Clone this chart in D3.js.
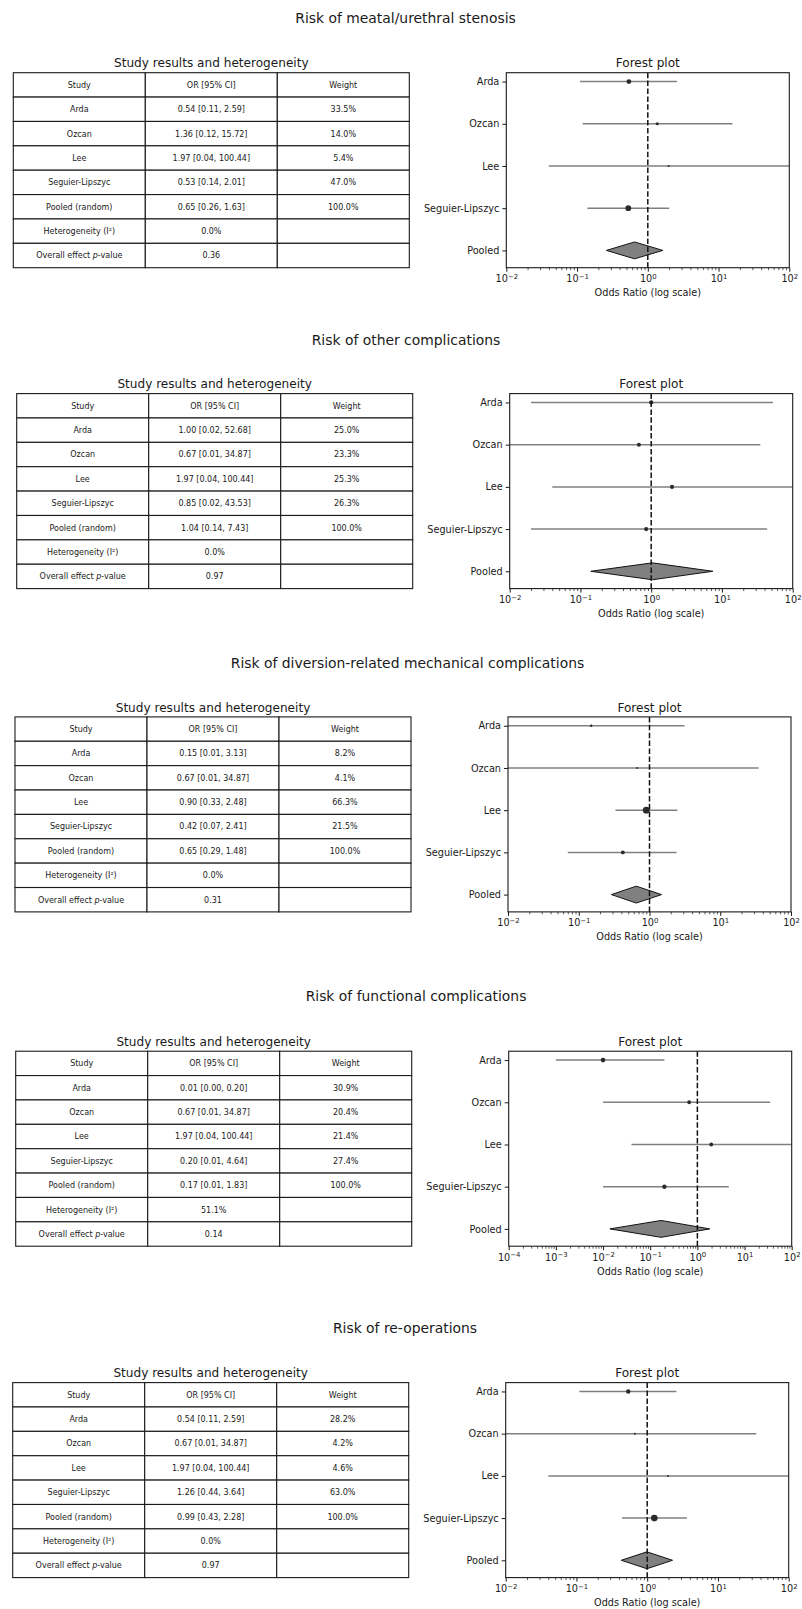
<!DOCTYPE html>
<html>
<head>
<meta charset="utf-8">
<script src="https://cdn.jsdelivr.net/npm/d3@7"></script>
<style>
  body { margin: 0; background: #fff; }
  text { font-family: "DejaVu Sans", sans-serif; fill: #1a1a1a; }
</style>
</head>
<body>
<div id="chart"></div>
<script>
var studies = ["Arda", "Ozcan", "Lee", "Seguier-Lipszyc"];
var outcomes = [
  "Risk of meatal/urethral stenosis",
  "Risk of other complications",
  "Risk of diversion-related mechanical complications",
  "Risk of functional complications",
  "Risk of re-operations"
];

// odds ratio, lower / upper 95% CI, weight (%) per study
var meatalOR = [0.54, 1.36, 1.97, 0.53],
    meatalLo = [0.11, 0.12, 0.04, 0.14],
    meatalHi = [2.59, 15.72, 100.44, 2.01],
    meatalW  = [33.5, 14.0, 5.4, 47.0];
var otherOR = [1.00, 0.67, 1.97, 0.85],
    otherLo = [0.02, 0.01, 0.04, 0.02],
    otherHi = [52.68, 34.87, 100.44, 43.53],
    otherW  = [25.0, 23.3, 25.3, 26.3];
var mechOR = [0.15, 0.67, 0.90, 0.42],
    mechLo = [0.01, 0.01, 0.33, 0.07],
    mechHi = [3.13, 34.87, 2.48, 2.41],
    mechW  = [8.2, 4.1, 66.3, 21.5];
var funcOR = [0.01, 0.67, 1.97, 0.20],
    funcLo = [0.001, 0.01, 0.04, 0.01],
    funcHi = [0.20, 34.87, 100.44, 4.64],
    funcW  = [30.9, 20.4, 21.4, 27.4];
var reopOR = [0.54, 0.67, 1.97, 1.26],
    reopLo = [0.11, 0.01, 0.04, 0.44],
    reopHi = [2.59, 34.87, 100.44, 3.64],
    reopW  = [28.2, 4.2, 4.6, 63.0];

// pooled (random): OR, lower, upper
var pooled = [[0.65, 0.26, 1.63], [1.04, 0.14, 7.43], [0.65, 0.29, 1.48], [0.17, 0.014, 1.83], [0.99, 0.43, 2.28]];
var heterogeneity = [0.0, 0.0, 0.0, 51.1, 0.0];
var pValues = [0.36, 0.97, 0.31, 0.14, 0.97];
var xDomains = [[1e-2, 1e2], [1e-2, 1e2], [1e-2, 1e2], [1e-4, 1e2], [1e-2, 1e2]];

var orData = [meatalOR, otherOR, mechOR, funcOR, reopOR],
    loData = [meatalLo, otherLo, mechLo, funcLo, reopLo],
    hiData = [meatalHi, otherHi, mechHi, funcHi, reopHi],
    wData  = [meatalW, otherW, mechW, funcW, reopW];

// where each panel sits
var layout = [
  {dx: 13.3, top: 72.7,   tx: 405.5, ty: 18.3},
  {dx: 16.7, top: 393.6,  tx: 406,   ty: 340},
  {dx: 15,   top: 716.9,  tx: 407.5, ty: 662.7},
  {dx: 15.7, top: 1051.2, tx: 416,   ty: 996},
  {dx: 12.7, top: 1382.6, tx: 405,   ty: 1327.7}
];

var W = 802, H = 1609;
var tableW = 396, panelH = 195, axGap = 493, axW = 283;

var svg = d3.select("#chart").append("svg")
    .attr("width", W)
    .attr("height", H);
svg.append("rect").attr("width", W).attr("height", H).attr("fill", "#fff");

function fmt(v) { return v.toFixed(2); }

function drawPanel(i) {
  var L = layout[i];
  var g = svg.append("g");
  var top = L.top, bottom = L.top + panelH;

  g.append("text")
      .attr("x", L.tx)
      .attr("y", L.ty + 5)
      .attr("text-anchor", "middle")
      .style("font-size", "13.9px")
      .text(outcomes[i]);

  // ---- table
  var rows = [["Study", "OR [95% CI]", "Weight"]];
  studies.forEach(function(s, k) {
    rows.push([s, fmt(orData[i][k]) + " [" + fmt(loData[i][k]) + ", " + fmt(hiData[i][k]) + "]", wData[i][k].toFixed(1) + "%"]);
  });
  var P = pooled[i];
  rows.push(["Pooled (random)", fmt(P[0]) + " [" + fmt(P[1]) + ", " + fmt(P[2]) + "]", "100.0%"]);
  rows.push(["Heterogeneity (I\u00b2)", heterogeneity[i].toFixed(1) + "%", ""]);
  rows.push(["__p", fmt(pValues[i]), ""]);

  var colX = d3.scaleBand().domain([0, 1, 2]).range([L.dx, L.dx + tableW]);
  var rowY = d3.scaleBand().domain(d3.range(rows.length)).range([top, bottom]);

  g.append("text")
      .attr("x", L.dx + tableW / 2)
      .attr("y", top - 5.3)
      .attr("text-anchor", "middle")
      .style("font-size", "12.1px")
      .text("Study results and heterogeneity");

  var cell = g.selectAll(".cell")
      .data(d3.merge(rows.map(function(r, ri) { return r.map(function(c, ci) { return {r: ri, c: ci, t: c}; }); })))
    .enter().append("g")
      .attr("class", "cell");

  cell.append("rect")
      .attr("x", function(d) { return colX(d.c); })
      .attr("y", function(d) { return rowY(d.r); })
      .attr("width", colX.bandwidth())
      .attr("height", rowY.bandwidth())
      .attr("fill", "#fff")
      .attr("stroke", "#1a1a1a")
      .attr("stroke-width", 1.1);

  cell.append("text")
      .attr("x", function(d) { return colX(d.c) + colX.bandwidth() / 2; })
      .attr("y", function(d) { return rowY(d.r) + rowY.bandwidth() / 2; })
      .attr("dy", "0.36em")
      .attr("text-anchor", "middle")
      .style("font-size", "8px")
      .each(function(d) {
        var t = d3.select(this);
        if (d.t === "__p") {
          t.append("tspan").text("Overall effect ");
          t.append("tspan").style("font-style", "italic").text("p");
          t.append("tspan").text("-value");
        } else {
          t.text(d.t);
        }
      });

  // ---- forest plot
  var ax0 = L.dx + axGap;
  var x = d3.scaleLog().domain(xDomains[i]).range([ax0, ax0 + axW]);
  var y = d3.scaleLinear().domain([-0.41, 4.21]).range([bottom, top]);

  var clipId = "clip" + i;
  g.append("clipPath").attr("id", clipId)
    .append("rect")
      .attr("x", ax0).attr("y", top)
      .attr("width", axW).attr("height", panelH);

  g.append("text")
      .attr("x", ax0 + axW / 2)
      .attr("y", top - 5.3)
      .attr("text-anchor", "middle")
      .style("font-size", "12.1px")
      .text("Forest plot");

  var plot = g.append("g").attr("clip-path", "url(#" + clipId + ")");

  var pts = studies.map(function(s, k) {
    return {y: 4 - k, or: orData[i][k], lo: loData[i][k], hi: hiData[i][k], w: wData[i][k]};
  });

  plot.selectAll(".ci")
      .data(pts)
    .enter().append("line")
      .attr("class", "ci")
      .attr("x1", function(d) { return x(d.lo); })
      .attr("x2", function(d) { return x(d.hi); })
      .attr("y1", function(d) { return y(d.y); })
      .attr("y2", function(d) { return y(d.y); })
      .attr("stroke", "#808080")
      .attr("stroke-width", 1.5);

  plot.selectAll(".dot")
      .data(pts)
    .enter().append("circle")
      .attr("class", "dot")
      .attr("cx", function(d) { return x(d.or); })
      .attr("cy", function(d) { return y(d.y); })
      .attr("r", function(d) { return Math.max(1, 0.42 * Math.sqrt(d.w)); })
      .attr("fill", "#2b2b2b");

  plot.append("path")
      .attr("d", "M" + x(P[1]) + "," + y(0) +
                 "L" + x(P[0]) + "," + y(0.2) +
                 "L" + x(P[2]) + "," + y(0) +
                 "L" + x(P[0]) + "," + y(-0.2) + "Z")
      .attr("fill", "#808080")
      .attr("stroke", "#111")
      .attr("stroke-width", 1);

  plot.append("line")
      .attr("x1", x(1)).attr("x2", x(1))
      .attr("y1", top).attr("y2", bottom)
      .attr("stroke", "#111")
      .attr("stroke-width", 1.5)
      .attr("stroke-dasharray", "5.5,2.4");

  // axes
  var dec = d3.range(Math.round(Math.log10(xDomains[i][0])), Math.round(Math.log10(xDomains[i][1])) + 1);
  var minor = [];
  dec.slice(0, -1).forEach(function(e) {
    d3.range(2, 10).forEach(function(m) { minor.push(m * Math.pow(10, e)); });
  });

  g.append("g")
      .attr("transform", "translate(0," + bottom + ")")
      .call(d3.axisBottom(x).tickValues(minor).tickSize(2.5).tickFormat(""))
      .call(function(a) { a.select(".domain").remove(); a.selectAll("line").attr("stroke", "#1a1a1a").attr("stroke-width", 0.7); });

  var xg = g.append("g")
      .attr("transform", "translate(0," + bottom + ")")
      .call(d3.axisBottom(x).tickValues(dec.map(function(e) { return Math.pow(10, e); })).tickSize(4).tickPadding(3.5).tickSizeOuter(0));
  xg.select(".domain").remove();
  xg.selectAll("line").attr("stroke", "#1a1a1a").attr("stroke-width", 1);
  xg.selectAll(".tick text")
      .style("font-size", "9.7px")
      .style("font-family", "'DejaVu Sans', sans-serif")
      .attr("fill", "#1a1a1a")
      .each(function(v) {
        var e = Math.round(Math.log10(v));
        var t = d3.select(this).text("");
        t.append("tspan").text("10");
        t.append("tspan").attr("dy", "-0.45em").style("font-size", "6.9px").text(e < 0 ? "\u2212" + (-e) : e);
      });

  var yg = g.append("g")
      .attr("transform", "translate(" + ax0 + ",0)")
      .call(d3.axisLeft(y).tickValues([4, 3, 2, 1, 0]).tickSize(4).tickPadding(3).tickSizeOuter(0)
        .tickFormat(function(v) { return v === 0 ? "Pooled" : studies[4 - v]; }));
  yg.select(".domain").remove();
  yg.selectAll("line").attr("stroke", "#1a1a1a").attr("stroke-width", 1);
  yg.selectAll(".tick text")
      .style("font-size", "9.7px")
      .style("font-family", "'DejaVu Sans', sans-serif")
      .attr("fill", "#1a1a1a");

  g.append("rect")
      .attr("x", ax0).attr("y", top)
      .attr("width", axW).attr("height", panelH)
      .attr("fill", "none")
      .attr("stroke", "#1a1a1a")
      .attr("stroke-width", 1.1);

  g.append("text")
      .attr("x", ax0 + axW / 2)
      .attr("y", bottom + 28.5)
      .attr("text-anchor", "middle")
      .style("font-size", "9.7px")
      .text("Odds Ratio (log scale)");
}

outcomes.forEach(function(o, i) { drawPanel(i); });
</script>
</body>
</html>
